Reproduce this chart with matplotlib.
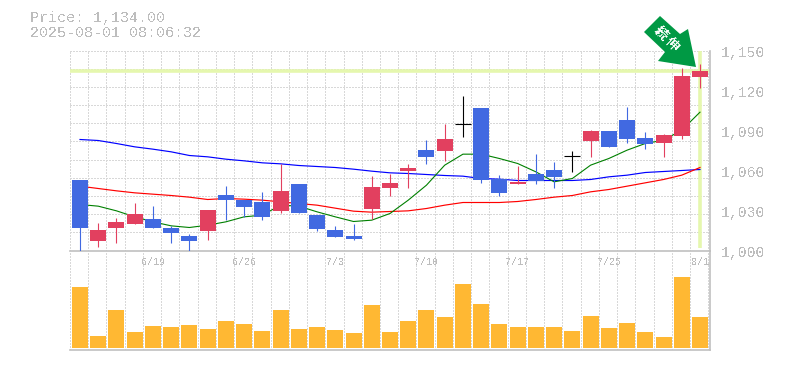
import numpy as np
import matplotlib
matplotlib.use("Agg")
import matplotlib.pyplot as plt
from matplotlib.patches import Polygon

plt.rcParams['font.family'] = ['Liberation Mono', 'DejaVu Sans Mono']
plt.rcParams['text.antialiased'] = False

# full prices (yen)
opens = [1052.75,1007,1016.75,1019.75,1023.5,1017.25,1010.75,1014.5,1041.5,1037.75,1036.25,1029.5,1049.75,1026.5,1015.25,1010.75,1031,1046.75,1059.5,1075.25,1074.5,1095.25,1106.75,1053.5,1049.75,1057.25,1060.25,1071.25,1082,1089.5,1097.75,1084.25,1080.5,1085.75,1130]
closes = [1016.75,1015.25,1021.25,1027.25,1016.75,1013,1007,1030.25,1037.75,1032.5,1025,1044.5,1028,1016,1010,1008.5,1047.5,1050.5,1061.75,1070,1083.5,1095.25,1052.75,1043,1051.25,1052,1055,1071.25,1089.5,1077.5,1083.5,1079.75,1086.5,1130.75,1134.5]
highs = [1052.75,1020.5,1024.25,1035.5,1033.25,1018.25,1012.25,1030.25,1048.25,1037.75,1043.75,1065.25,1049.75,1026.5,1018.25,1019.75,1055.75,1057.25,1064.75,1082.75,1094.75,1115.75,1106.75,1056.5,1063.25,1072.25,1066.25,1074.5,1090.25,1089.5,1107.5,1088.75,1087.25,1136.75,1139.75]
lows = [1000,1002.5,1005.5,1019.75,1016.75,1005.5,1000,1007.75,1022.75,1025.25,1022.75,1028,1028,1014.5,1010,1007.75,1023.5,1040.75,1046.75,1064.75,1067,1085,1050.5,1040.75,1049.75,1049.75,1046.75,1058.75,1070,1077.5,1080.5,1076,1070,1083.5,1121.75]
ma_short = [1034.5,1033.25,1029.75,1025.25,1021.5,1018.5,1017.25,1019,1021.5,1025.25,1026.5,1034,1033.25,1029,1025.25,1021.75,1022.75,1027.75,1037.75,1049,1064,1072.25,1072.25,1069,1065.25,1059,1051.5,1054,1064,1069,1075.25,1080.25,1082.75,1090.25,1103.75]
ma_mid = [1048.25,1046.5,1044.75,1043.25,1042.25,1041.25,1040,1038.25,1039,1038.5,1037.75,1036.5,1035.25,1034,1031.75,1029.5,1028.75,1029.25,1029.75,1031.5,1034,1036,1036,1036,1036.75,1038.25,1040,1041.25,1044,1045.75,1048.25,1050.75,1053.25,1056.5,1062.25]
ma_long = [1083.25,1082.5,1080.25,1077.75,1076,1074,1071.25,1070.25,1068.5,1067.25,1065.75,1065,1063.75,1063,1062.25,1061,1059.5,1058.25,1057.75,1057,1056.25,1055.75,1054,1053.5,1052.5,1052.5,1052.5,1052.5,1053.25,1055.25,1056.5,1058.5,1059.25,1060,1060.75]
volumes = [61,12,38,16,22,21,23,19,27,24,17,38,19,21,18,15,43,16,27,38,31,64,44,24,21,21,21,17,32,20,25,16,11,71,31]
last_price = 1135
y_ticks = [1000,1030,1060,1090,1120,1150]
y_labels = ['1,000','1,030','1,060','1,090','1,120','1,150']
x_tick_idx = [4,9,14,19,24,29,34]
x_labels = ['6/19','6/26','7/3','7/10','7/17','7/25','8/1']

W, H = 785, 370
L, R, T, M, B = 70, 710, 50.5, 250.5, 349.5
fig = plt.figure(figsize=(W/100, H/100), dpi=100, facecolor='white')
ax = fig.add_axes([L/W, 1-M/H, (R-L)/W, (M-T)/H])
av = fig.add_axes([L/W, 1-B/H, (R-L)/W, (B-M)/H])

n = len(opens)
x = np.arange(n)
step = 18.235
xl = (-10/step, (R-80)/step)
gridx = xl[0] + np.arange(36)
GRID = '#d8d8d8'
AXC = '#c0c0c0'
TXT = '#bdbdbd'
BLUE = '#4169e1'
RED = '#e2405f'
DASH = (0, (2, 2))
for a in (ax, av):
    a.set_xlim(*xl)
    vl = a.vlines(gridx, 0, 1, transform=a.get_xaxis_transform(), colors=GRID, lw=0.72, linestyles=DASH, zorder=0)
    vl.set_antialiased(False)
    for s in ('top','left'):
        a.spines[s].set_visible(False)
    for s in ('bottom','right'):
        a.spines[s].set_color(AXC)
        a.spines[s].set_linewidth(1.2)
ax.set_ylim(1000, 1150)
hl = ax.hlines(np.linspace(1000,1150,12)[1:], 0, 1, transform=ax.get_yaxis_transform(), colors=GRID, lw=0.72, linestyles=DASH, zorder=0)
hl.set_antialiased(False)
ax.axhline(last_price, color='#e5f7ae', lw=2.6, zorder=1)
ax.vlines(x[-1], 1002, 1150, color='#e5f7ae', lw=2.6, zorder=1)
ax.plot(x, ma_long, color='#0000ff', lw=0.85, zorder=2)
ax.plot(x, ma_mid, color='#ff0000', lw=0.85, zorder=2)
ax.plot(x, ma_short, color='#008000', lw=0.8, zorder=2)
for i in x:
    o, c = opens[i], closes[i]
    col = 'black' if o == c else (RED if c > o else BLUE)
    ax.vlines(i, lows[i], highs[i], color=col, lw=0.8, zorder=3)
    if o == c:
        ax.hlines(o, i-8/step, i+8/step, color=col, lw=0.8, zorder=3)
    else:
        ax.bar(i, abs(c-o), bottom=min(o,c), width=16/step, color=col, lw=0, zorder=3)

ax.yaxis.tick_right()
ax.set_yticks(y_ticks)
ax.set_yticklabels(y_labels, fontsize=10.6, color=TXT)
ax.tick_params(axis='y', length=0, pad=7.8)
for lab in ax.get_yticklabels():
    lab.set_va('center')
    lab.set_transform(lab.get_transform() + matplotlib.transforms.ScaledTranslation(0, -2.5/100, fig.dpi_scale_trans))
ax.set_xticks(x_tick_idx)
ax.set_xticklabels(x_labels, fontsize=7.2, color=TXT)
ax.tick_params(axis='x', length=0, pad=5)
ax.patch.set_alpha(0)

av.bar(x, volumes, width=16/step, color='#ffb833', lw=0, zorder=2)
av.set_ylim(-1.5, 98)
av.set_xticks([]); av.set_yticks([])
av.patch.set_alpha(0)

fig.text(30/W, 1-18/H, 'Price: 1,134.00', fontsize=10.8, color=TXT, va='center', ha='left')
fig.text(30/W, 1-33/H, '2025-08-01 08:06:32', fontsize=10.8, color=TXT, va='center', ha='left')

pts = [(660,16),(680,34),(688,29),(696,67),(658,61),(665,52),(644,32)]
fig.add_artist(Polygon([(px/W, 1-py/H) for px,py in pts], closed=True, transform=fig.transFigure, facecolor='#009944', edgecolor='none', zorder=5))
fig.text(661/W, 1-33/H, '続', fontsize=9.5, color='white', rotation=-45, ha='center', va='center', family=['Noto Sans CJK JP'], weight='bold', zorder=6)
fig.text(672/W, 1-44/H, '伸', fontsize=9.5, color='white', rotation=-45, ha='center', va='center', family=['Noto Sans CJK JP'], weight='bold', zorder=6)

fig.savefig('out.png', dpi=100, facecolor='white')
